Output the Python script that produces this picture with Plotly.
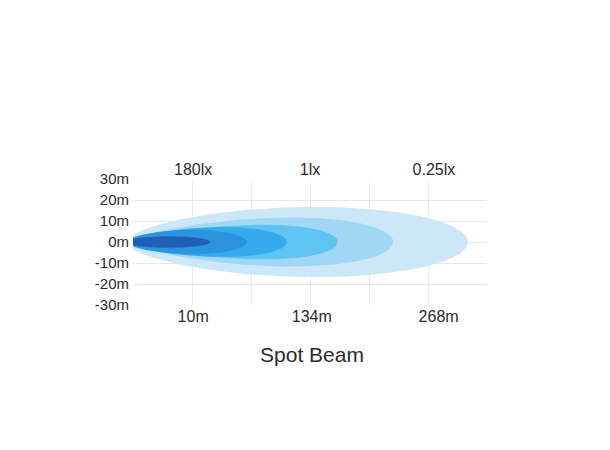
import numpy as np
import plotly.graph_objects as go

# ---- data ----
lux_labels = ["180lx", "1lx", "0.25lx"]
lux_pos = [1.02, 3.0, 5.1]
dist_labels = ["10m", "134m", "268m"]
dist_pos = [1.02, 3.03, 5.18]
y_ticks = [-30, -20, -10, 0, 10, 20, 30]

# beam contours (outermost first): reach along the grid, max half-width in m
beam_start = -0.12
beam_reach = [5.68, 4.41, 3.47, 2.61, 1.93, 1.31]
beam_halfwidth = [16.7, 11.7, 8.3, 7.2, 5.8, 2.8]
beam_peak = [0.55, 0.62, 0.65, 0.6, 0.55, 0.5]
beam_colors = ["#cbe7f8", "#9fd7f5", "#5ec4f3", "#35abee", "#2b93e0", "#1f5fb5"]

fig = go.Figure()

for reach, w, m, col in zip(beam_reach, beam_halfwidth, beam_peak, beam_colors):
    L = reach - beam_start
    t = np.linspace(0, 1, 400)
    g = np.log(0.5) / np.log(m)
    tp = t ** g
    hw = w * np.sqrt(np.clip(1 - (2 * tp - 1) ** 2, 0, None))
    xs = beam_start + t * L
    keep = xs >= 0
    xs, hw = xs[keep], hw[keep]
    x_out = np.concatenate([xs, xs[::-1]])
    y_out = np.concatenate([hw, -hw[::-1]])
    fig.add_trace(go.Scatter(x=x_out, y=y_out, mode="lines", fill="toself",
                             fillcolor=col, line=dict(width=0, color=col),
                             hoverinfo="skip", showlegend=False))

# invisible trace to anchor the top axis
fig.add_trace(go.Scatter(x=[0, 6], y=[0, 0], xaxis="x2", mode="markers",
                         marker=dict(opacity=0), hoverinfo="skip", showlegend=False))

font_family = "Liberation Sans, Arial, sans-serif"

fig.update_layout(
    width=610, height=450,
    paper_bgcolor="white", plot_bgcolor="white",
    margin=dict(l=125, r=131, t=171, b=153),
    font=dict(family=font_family, color="#333333"),
    xaxis=dict(range=[0, 6], tickmode="array", tickvals=dist_pos, ticktext=dist_labels,
               showgrid=False, zeroline=False, showline=False, ticks="",
               tickfont=dict(size=16, color="#2b2b2b"),
               minor=dict(dtick=1, tick0=0, showgrid=True, gridcolor="#ebebeb", gridwidth=1)),
    xaxis2=dict(range=[0, 6], overlaying="x", side="top", tickmode="array",
                tickvals=lux_pos, ticktext=lux_labels, showgrid=False, zeroline=False,
                showline=False, ticks="", tickfont=dict(size=16, color="#2b2b2b")),
    yaxis=dict(range=[-30, 30], tickmode="array", tickvals=y_ticks,
               ticktext=[f"{v}m" for v in y_ticks], showgrid=True, gridcolor="#e6e6e6",
               zeroline=False, showline=False, ticks="", ticklabelstandoff=3,
               tickfont=dict(size=15, color="#2b2b2b")),
    title=dict(text="Spot Beam", x=304 / 610, xanchor="center", y=1 - 347 / 450,
               yanchor="middle", font=dict(size=21, color="#2b2b2b", family=font_family)),
)

fig.write_html("out.html")
